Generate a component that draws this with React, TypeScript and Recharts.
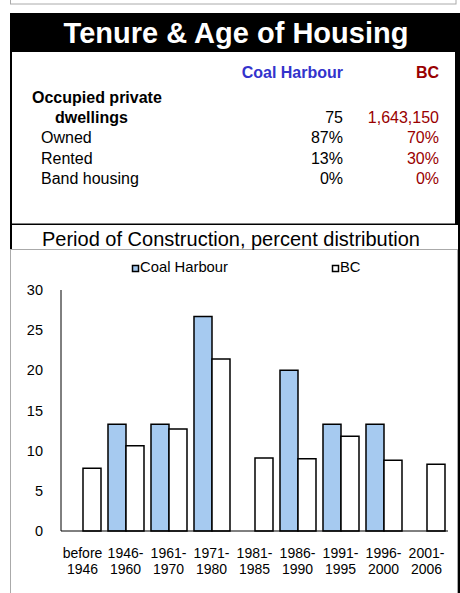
import { Bar, BarChart, XAxis, YAxis } from "recharts"

const periodTop = ["before", "1946-", "1961-", "1971-", "1981-", "1986-", "1991-", "1996-", "2001-"]
const periodBottom = ["1946", "1960", "1970", "1980", "1985", "1990", "1995", "2000", "2006"]
const coalHarbour = [0, 13.3, 13.3, 26.7, 0, 20, 13.3, 13.3, 0]
const bc = [7.8, 10.6, 12.7, 21.4, 9.1, 9.0, 11.8, 8.8, 8.3]
const yTicks = [0, 5, 10, 15, 20, 25, 30]

const tenureRows = ["Owned", "Rented", "Band housing"]
const tenureCoal = ["87%", "13%", "0%"]
const tenureBc = ["70%", "30%", "0%"]
const dwellingsCoal = "75"
const dwellingsBc = "1,643,150"

const FONT = '"Liberation Sans", Arial, sans-serif'
const BLUE = "#A6CAF0"
const RED = "#990000"

const data = periodTop.map((p, i) => ({
    period: p + " " + periodBottom[i],
    coal: coalHarbour[i],
    bc: bc[i],
}))

function PeriodTick({ x, y, payload }: any) {
    const i = payload.index
    return (
        <text x={x} y={y} textAnchor="middle" fontSize={14} fontFamily={FONT} fill="#000">
            <tspan x={x} dy={27}>{periodTop[i]}</tspan>
            <tspan x={x} dy={16}>{periodBottom[i]}</tspan>
        </text>
    )
}

function ValueTick({ x, y, payload }: any) {
    return (
        <text x={x} y={y + 5} textAnchor="end" fontSize={14.5} fontFamily={FONT} fill="#000">
            {payload.value}
        </text>
    )
}

export default function App() {
    return (
        <div style={{ position: "absolute", left: 0, top: 0, width: 460, height: 593, overflow: "hidden", fontFamily: FONT }}>
            <svg width={460} height={593} style={{ position: "absolute", left: 0, top: 0 }}>
                {/* frames */}
                <rect x={10.5} y={-10} width={445.5} height={14} fill="none" stroke="#aaa" />
                <rect x={10} y={13} width={450} height={39} fill="#000" />
                <rect x={10} y={52} width={2} height={197} fill="#000" />
                <rect x={455} y={52} width={5} height={173} fill="#000" />
                <rect x={458} y={225} width={2} height={368} fill="#000" />
                <rect x={10} y={223.5} width={450} height={1.5} fill="#000" />
                <line x1={10} x2={457} y1={249.5} y2={249.5} stroke="#aaa" />
                <line x1={10.5} x2={10.5} y1={249} y2={593} stroke="#aaa" />
                <line x1={457.5} x2={457.5} y1={249} y2={593} stroke="#aaa" />

                <text x={236} y={43} textAnchor="middle" fill="#fff" fontWeight="bold" fontSize={29} fontFamily={FONT}>
                    Tenure &amp; Age of Housing
                </text>

                {/* table */}
                <g fontFamily={FONT} fontSize={16}>
                    <text x={343} y={78} textAnchor="end" fontWeight="bold" fill="#3333CC">Coal Harbour</text>
                    <text x={439} y={78} textAnchor="end" fontWeight="bold" fill={RED}>BC</text>
                    <text x={32} y={102.5} fontWeight="bold" fill="#000">Occupied private</text>
                    <text x={55} y={122.5} fontWeight="bold" fill="#000">dwellings</text>
                    <text x={343} y={122.5} textAnchor="end" fill="#000">{dwellingsCoal}</text>
                    <text x={439} y={122.5} textAnchor="end" fill={RED}>{dwellingsBc}</text>
                    {tenureRows.map((r, i) => (
                        <g key={r}>
                            <text x={41} y={143 + i * 20.5} fill="#000">{r}</text>
                            <text x={343} y={143 + i * 20.5} textAnchor="end" fill="#000">{tenureCoal[i]}</text>
                            <text x={439} y={143 + i * 20.5} textAnchor="end" fill={RED}>{tenureBc[i]}</text>
                        </g>
                    ))}
                </g>

                <text x={231} y={246} textAnchor="middle" fontSize={20} fontFamily={FONT} fill="#000">
                    Period of Construction, percent distribution
                </text>

                {/* legend */}
                <rect x={132.5} y={265.5} width={6} height={6} fill={BLUE} stroke="#000" strokeWidth={1.5} />
                <text x={140} y={272} fontSize={14.8} fontFamily={FONT} fill="#000">Coal Harbour</text>
                <rect x={332.5} y={265.5} width={6} height={6} fill="#fff" stroke="#000" strokeWidth={1.5} />
                <text x={340} y={272} fontSize={14.8} fontFamily={FONT} fill="#000">BC</text>
            </svg>

            <div style={{ position: "absolute", left: 0, top: 249 }}>
                <BarChart
                    width={460}
                    height={344}
                    data={data}
                    margin={{ top: 41, right: 12, left: 11, bottom: 22 }}
                    barCategoryGap="9.3%"
                    barGap={0}
                >
                    <YAxis
                        width={50}
                        domain={[0, 30]}
                        ticks={yTicks}
                        tickLine={false}
                        tickSize={0}
                        tickMargin={18}
                        axisLine={{ stroke: "#000" }}
                        tick={<ValueTick />}
                    />
                    <XAxis
                        dataKey="period"
                        height={40}
                        interval={0}
                        tickLine={false}
                        tickSize={0}
                        tickMargin={0}
                        axisLine={{ stroke: "#000" }}
                        tick={<PeriodTick />}
                    />
                    <Bar dataKey="coal" fill={BLUE} stroke="#000" strokeWidth={1.5} isAnimationActive={false} />
                    <Bar dataKey="bc" fill="#fff" stroke="#000" strokeWidth={1.5} isAnimationActive={false} />
                </BarChart>
            </div>
        </div>
    )
}
